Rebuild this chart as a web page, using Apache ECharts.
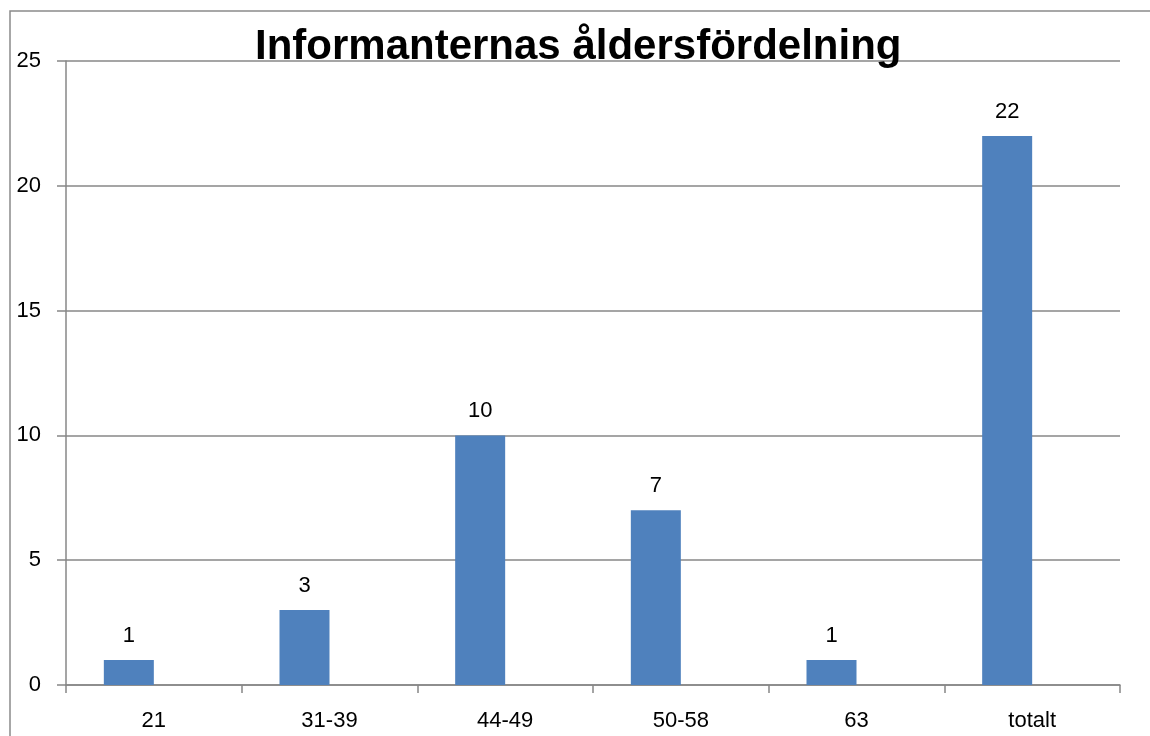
<!DOCTYPE html>
<html><head><meta charset="utf-8">
<script src="https://cdn.jsdelivr.net/npm/echarts@6/dist/echarts.min.js"></script>
<style>html,body{margin:0;padding:0;background:#fff}#c{width:1150px;height:736px}</style>
</head><body><div id="c"></div>
<script>
const titleText = 'Informanternas åldersfördelning';
const categories = ['21', '31-39', '44-49', '50-58', '63', 'totalt'];
const values = [1, 3, 10, 7, 1, 22];
// second (empty) series of the original chart, which shifts the bars left of centre
const emptyValues = [null, null, null, null, null, null];

const chart = echarts.init(document.getElementById('c'), null, {renderer: 'canvas'});
const font = '"Liberation Sans", Arial, sans-serif';
const lineCol = '#878787';
chart.setOption({
  animation: false,
  textStyle: {fontFamily: font},
  title: {
    text: titleText,
    left: 250,
    top: 21,
    textStyle: {fontFamily: font, fontSize: 42, fontWeight: 'bold', color: '#000'}
  },
  graphic: [{
    type: 'rect',
    shape: {x: 10, y: 11, width: 1200, height: 800},
    style: {fill: 'none', stroke: '#8a8a8a', lineWidth: 1.5},
    z: 100
  }],
  grid: {left: 66, right: 30, top: 61, bottom: 51, containLabel: false},
  xAxis: {
    type: 'category',
    data: categories,
    axisLine: {show: true, lineStyle: {color: lineCol, width: 1.5}},
    axisTick: {show: true, length: 8, lineStyle: {color: lineCol, width: 1.5}},
    axisLabel: {color: '#000', fontSize: 22, fontFamily: font, margin: 25}
  },
  yAxis: {
    type: 'value',
    min: 0, max: 25, interval: 5,
    axisLine: {show: true, lineStyle: {color: lineCol, width: 1.5}},
    axisTick: {show: true, length: 9, lineStyle: {color: lineCol, width: 1.5}},
    axisLabel: {color: '#000', fontSize: 22, fontFamily: font, margin: 25},
    splitLine: {show: true, lineStyle: {color: lineCol, width: 1.5}}
  },
  series: [{
    type: 'bar',
    data: values,
    barWidth: 50,
    barGap: 0,
    itemStyle: {color: '#4F81BD'},
    label: {show: true, position: 'top', distance: 13, color: '#000', fontSize: 22, fontFamily: font}
  }, {
    type: 'bar',
    data: emptyValues,
    barWidth: 50,
    barGap: 0,
    itemStyle: {color: '#C0504D'}
  }]
});
</script></body></html>
